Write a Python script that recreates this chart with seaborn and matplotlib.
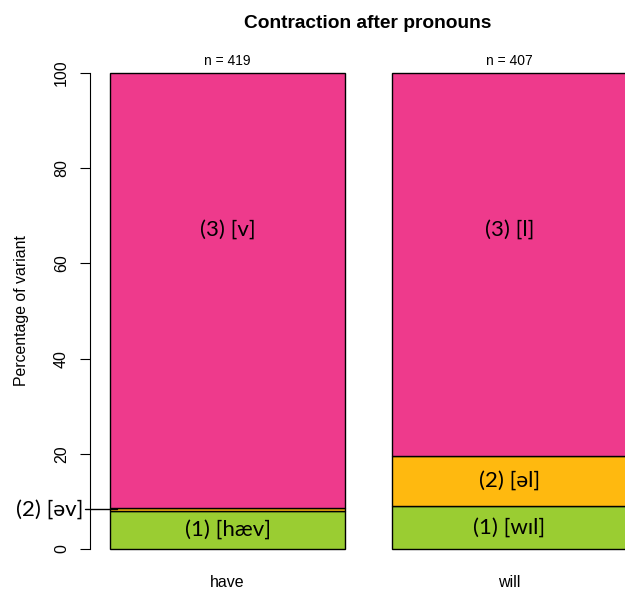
import matplotlib
matplotlib.use("Agg")
import matplotlib.pyplot as plt
import seaborn as sns
import numpy as np
import pandas as pd

# ---- data ----
categories = ["have", "will"]
variant1 = [8.0, 9.1]      # (1) full form
variant2 = [0.6, 10.5]     # (2) reduced
variant3 = [91.4, 80.4]    # (3) contracted
n_tokens = [419, 407]
labels1 = ["(1) [hæv]", "(1) [wɪl]"]
labels2 = ["(2) [əv]", "(2) [əl]"]
labels3 = ["(3) [v]", "(3) [l]"]
label3_y = [67, 67]

col1 = "#9ACD32"
col2 = "#FFB90F"
col3 = "#EE3A8C"

sns.set_style("white")
plt.rcParams["font.family"] = ["Liberation Sans", "DejaVu Sans"]
plt.rcParams["text.color"] = "black"
plt.rcParams["xtick.color"] = "black"
plt.rcParams["ytick.color"] = "black"
seg_font = ["Lato", "Noto Sans", "DejaVu Sans"]

fig = plt.figure(figsize=(6.25, 5.9), dpi=100)
ax = fig.add_axes([90 / 625, 41 / 590, 535 / 625, 476 / 590])

df = pd.DataFrame({"cat": categories, "v1": variant1, "v2": variant2, "v3": variant3})
b1 = np.zeros(len(categories))
b2 = b1 + np.array(variant1)
b3 = b2 + np.array(variant2)
w = 1 / 1.2
kw = dict(edgecolor="black", linewidth=1.0, width=w, errorbar=None, ax=ax)
sns.barplot(data=df, x="cat", y="v1", bottom=b1, color=col1, saturation=1, **kw)
sns.barplot(data=df, x="cat", y="v2", bottom=b2, color=col2, saturation=1, **kw)
sns.barplot(data=df, x="cat", y="v3", bottom=b3, color=col3, saturation=1, **kw)
for p in ax.patches:
    p.set_clip_on(False)

ax.set_ylim(0, 100)
x0 = -w / 2 - 20 / 282
ax.set_xlim(x0, w / 2 + 280 / 282)
for s in ["top", "right", "bottom"]:
    ax.spines[s].set_visible(False)
ax.spines["left"].set_bounds(0, 100)
ax.spines["left"].set_color("black")
ax.spines["left"].set_linewidth(0.8)
ax.set_yticks([0, 20, 40, 60, 80, 100])
ax.set_yticklabels(["0", "20", "40", "60", "80", "100"], rotation=90, va="center")
ax.tick_params(axis="y", left=True, length=7.2, width=0.8, pad=8.0, labelsize=11.5, color="black",
               labelcolor="black")
ax.tick_params(axis="x", length=0, pad=19, labelsize=11.5, labelcolor="black")
ax.set_xlabel("")
ax.set_ylabel("")

# segment labels
for i in range(len(categories)):
    ax.text(i, variant1[i] / 2, labels1[i], ha="center", va="center", fontsize=16, family=seg_font)
    if i == 1:
        ax.text(i, b2[i] + variant2[i] / 2, labels2[i], ha="center", va="center", fontsize=16, family=seg_font)
    ax.text(i, label3_y[i], labels3[i], ha="center", va="center", fontsize=16, family=seg_font)
    ax.text(i, 101, f"n = {n_tokens[i]}", ha="center", va="bottom", fontsize=10, clip_on=False)

# outside label for the thin segment
ym = b2[0] + variant2[0] / 2
ax.plot([x0 - 5 / 282, -w / 2 + 7 / 282], [ym, ym], color="black", lw=1.0, clip_on=False)
ax.text(x0 - 7 / 282, ym, labels2[0], ha="right", va="center", fontsize=16, family=seg_font, clip_on=False)

fig.text(368 / 625, 1 - 24 / 590, "Contraction after pronouns", ha="center", va="center",
         fontsize=13.8, fontweight="bold")
fig.text(22 / 625, 1 - 311 / 590, "Percentage of variant", rotation=90, ha="center", va="center", fontsize=11.4)

fig.savefig("out.png", dpi=100)
